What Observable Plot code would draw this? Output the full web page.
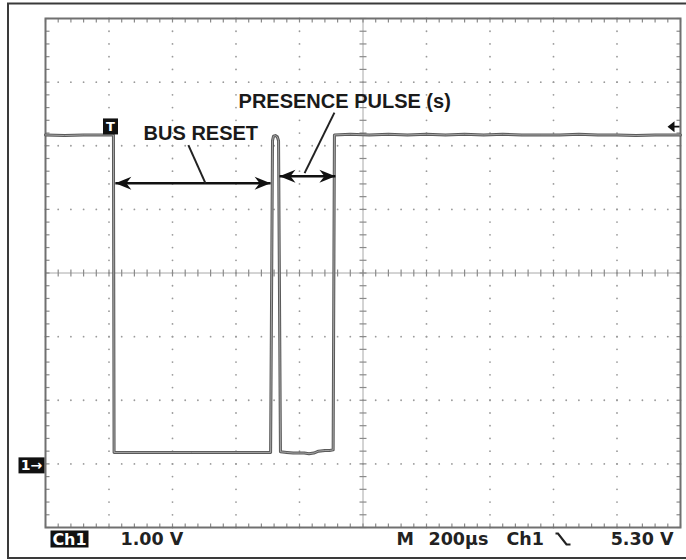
<!DOCTYPE html>
<html><head><meta charset="utf-8">
<script src="https://cdn.jsdelivr.net/npm/d3@7"></script>
<script src="https://cdn.jsdelivr.net/npm/@observablehq/plot@0.6"></script>
<style>body{margin:0;background:#fff}</style>
</head><body><div id="chart"></div>
<script>
// ---- waveform (time in µs from left edge of screen, volts) ----
const timeUs = [0, 60, 120, 180, 214, 216, 460, 709, 715, 718, 724, 730, 734, 740, 760, 780, 800, 815, 830, 845, 860, 880, 895, 906, 910,
  960, 1020, 1080, 1140, 1200, 1260, 1320, 1380, 1440, 1500, 1560, 1620, 1680, 1740, 1800, 1860, 1920, 2000];
const volts = [5.17, 5.16, 5.17, 5.17, 5.17, 0.18, 0.18, 0.18, 5.08, 5.15, 5.16, 5.14, 5.08, 0.19, 0.18, 0.17, 0.17, 0.17, 0.16, 0.17, 0.2, 0.21, 0.21, 0.22, 5.17,
  5.18, 5.17, 5.18, 5.17, 5.18, 5.17, 5.18, 5.17, 5.18, 5.17, 5.17, 5.17, 5.18, 5.17, 5.17, 5.16, 5.17, 5.17];

// ---- screen settings ----
const xDomain = [0, 2000];        // 10 div × 200 µs
const yDomain = [-1, 7];          // 8 div × 1.00 V, ground 1 div above bottom
const majorX = [200, 400, 600, 800, 1200, 1400, 1600, 1800];
const majorY = [0, 1, 2, 4, 5, 6];
const centerX = 1000, centerY = 3;
const minorStepUs = 40, minorStepV = 0.2;
const triggerUs = 200;
const triggerLevelV = 5.30;
const groundV = 0;

// ---- annotations ----
const annotLabels = ["BUS RESET", "PRESENCE PULSE (s)"];
const labelUs = [309, 608];
const labelV = [5.085, 5.60];
const spanStartUs = [220, 737];
const spanEndUs = [709, 913];
const spanV = [4.41, 4.52];
const leaderFromUs = [450, 910];
const leaderFromV = [5.01, 5.52];
const leaderToUs = [504, 816];
const leaderToV = [4.41, 4.57];

// ---- status line texts ----
const statusLabels = ["1.00 V", "M", "200µs", "Ch1"];
const statusOffsets = [75, 351, 383, 461];
const trigLevelLabel = "5.30 V";

// ---- build tables ----
const wave = timeUs.map((t, i) => ({t, v: volts[i]}));
const ann = annotLabels.map((label, i) => ({label, lt: labelUs[i], lv: labelV[i], s: spanStartUs[i], e: spanEndUs[i], sv: spanV[i],
  ft: leaderFromUs[i], fv: leaderFromV[i], tt: leaderToUs[i], tv: leaderToV[i]}));
const xMinor = d3.range(xDomain[0], xDomain[1] + 1, minorStepUs);
const yMinor = d3.range(0, 41).map(k => yDomain[0] + k * minorStepV);
const gridDots = [
  ...d3.cross(majorX, yMinor).map(([x, y]) => ({x, y})),
  ...d3.cross(xMinor, majorY).map(([x, y]) => ({x, y}))
];

// custom symbols
const seg = (x0, y0, x1, y1) => ({draw(c) { c.moveTo(x0, y0); c.lineTo(x1, y1); }});
const rectSym = (w, h) => ({draw(c) { c.rect(-w / 2, -h / 2, w, h); }});
const headRight = {draw(c) { c.moveTo(0, 0); c.lineTo(-16, -6.5); c.lineTo(-11, 0); c.lineTo(-16, 6.5); c.closePath(); }};
const headLeft = {draw(c) { c.moveTo(0, 0); c.lineTo(16, -6.5); c.lineTo(11, 0); c.lineTo(16, 6.5); c.closePath(); }};
const trigArrow = {draw(c) { c.moveTo(-13, 0); c.lineTo(-6, -5.5); c.lineTo(-6, 5.5); c.closePath(); c.rect(-6, -0.8, 5, 1.6); }};
const fallEdge = {draw(c) { c.moveTo(-7, -6); c.lineTo(-4.5, -6); c.lineTo(4, 5); c.lineTo(8, 5); }};

const gridColor = "#9a9a9a";
const tickColor = "#8a8a8a";
const font = "DejaVu Sans";
const statusStyle = {fontFamily: font, fontWeight: "bold", fontSize: 17.5, lineAnchor: "bottom", fill: "#222"};

const chart = Plot.plot({
  width: 686, height: 560,
  marginTop: 18, marginRight: 6, marginBottom: 33, marginLeft: 45,
  x: {domain: xDomain, axis: null},
  y: {domain: yDomain, axis: null},
  style: {background: "white", overflow: "hidden"},
  marks: [
    // outer bezel
    Plot.frame({stroke: "#3a3a3a", strokeWidth: 2, insetTop: -15, insetLeft: -37.5, insetRight: -10, insetBottom: -30.5}),
    // dotted graticule
    Plot.dot(gridDots, {x: "x", y: "y", r: 0.9, fill: gridColor, stroke: "none"}),
    // center cross lines
    Plot.ruleX([centerX], {stroke: "#a8a8a8", strokeWidth: 1}),
    Plot.ruleY([centerY], {stroke: "#a8a8a8", strokeWidth: 1}),
    Plot.dot(yMinor, {x: () => centerX, y: d => d, symbol: seg(-3.5, 0, 3.5, 0), stroke: tickColor, fill: "none", strokeWidth: 1.2}),
    Plot.dot(xMinor, {x: d => d, y: () => centerY, symbol: seg(0, -3.5, 0, 3.5), stroke: tickColor, fill: "none", strokeWidth: 1.2}),
    // border ticks
    Plot.dot(xMinor, {x: d => d, y: () => yDomain[1], symbol: seg(0, 0, 0, 4), stroke: tickColor, fill: "none", strokeWidth: 1.2}),
    Plot.dot(xMinor, {x: d => d, y: () => yDomain[0], symbol: seg(0, 0, 0, -4), stroke: tickColor, fill: "none", strokeWidth: 1.2}),
    Plot.dot(yMinor, {x: () => xDomain[0], y: d => d, symbol: seg(0, 0, 4, 0), stroke: tickColor, fill: "none", strokeWidth: 1.2}),
    Plot.dot(yMinor, {x: () => xDomain[1], y: d => d, symbol: seg(0, 0, -4, 0), stroke: tickColor, fill: "none", strokeWidth: 1.2}),
    Plot.frame({stroke: "#707070", strokeWidth: 2}),
    // waveform
    Plot.line(wave, {x: "t", y: "v", stroke: "#5a5a5a", strokeWidth: 3, strokeLinejoin: "round"}),
    Plot.line(wave, {x: "t", y: "v", stroke: "#b8b8b8", strokeWidth: 0.8, strokeLinejoin: "round"}),
    // annotations
    Plot.link(ann, {x1: "s", x2: "e", y1: "sv", y2: "sv", stroke: "#111", strokeWidth: 2.6}),
    Plot.dot(ann, {x: "s", y: "sv", symbol: headLeft, fill: "#111", stroke: "none"}),
    Plot.dot(ann, {x: "e", y: "sv", symbol: headRight, fill: "#111", stroke: "none"}),
    Plot.link(ann, {x1: "ft", y1: "fv", x2: "tt", y2: "tv", stroke: "#222", strokeWidth: 2}),
    Plot.text(ann, {x: "lt", y: "lv", text: "label", textAnchor: "start", lineAnchor: "bottom",
      fontFamily: "Liberation Sans", fontWeight: "bold", fontSize: 20, fill: "#1a1a1a"}),
    // trigger position marker
    Plot.dot([triggerUs], {x: d => d, y: () => volts[0], dx: 1.5, dy: -8.5, symbol: rectSym(15, 16), fill: "#111", stroke: "none"}),
    Plot.text([triggerUs], {x: d => d, y: () => volts[0], dx: 1.5, dy: -8.5, text: () => "T", fill: "white",
      fontFamily: font, fontWeight: "bold", fontSize: 13, lineAnchor: "middle"}),
    // trigger level marker
    Plot.dot([triggerLevelV], {x: () => xDomain[1], y: d => d, symbol: trigArrow, fill: "#111", stroke: "none"}),
    // ground marker
    Plot.dot([groundV], {x: () => xDomain[0], y: d => d, dx: -14, dy: 1.5, symbol: rectSym(26, 16), fill: "#111", stroke: "none"}),
    Plot.text([groundV], {x: () => xDomain[0], y: d => d, dx: -14, dy: 1.5, text: () => "1\u2192", fill: "white",
      fontFamily: font, fontWeight: "bold", fontSize: 14, lineAnchor: "middle"}),
    // status line
    Plot.dot([0], {x: () => xDomain[0], y: () => yDomain[0], dx: 24, dy: 11.5, symbol: rectSym(38, 17), fill: "#111", stroke: "none"}),
    Plot.text(["Ch1"], {x: () => xDomain[0], y: () => yDomain[0], dx: 24, dy: 17.5, text: d => d, fill: "white",
      fontFamily: font, fontWeight: "bold", fontSize: 16, lineAnchor: "bottom", textAnchor: "middle"}),
    ...statusLabels.map((label, i) => Plot.text([label], {x: () => xDomain[0], y: () => yDomain[0],
      dx: statusOffsets[i], dy: 17.5, text: d => d, textAnchor: "start", ...statusStyle})),
    Plot.dot([0], {x: () => xDomain[0], y: () => yDomain[0], dx: 517, dy: 12, symbol: fallEdge, fill: "none", stroke: "#222", strokeWidth: 2.2}),
    Plot.text([trigLevelLabel], {x: () => xDomain[1], y: () => yDomain[0], dx: -7, dy: 17.5, text: d => d,
      textAnchor: "end", ...statusStyle})
  ]
});
document.getElementById("chart").appendChild(chart);
</script>
</body></html>
